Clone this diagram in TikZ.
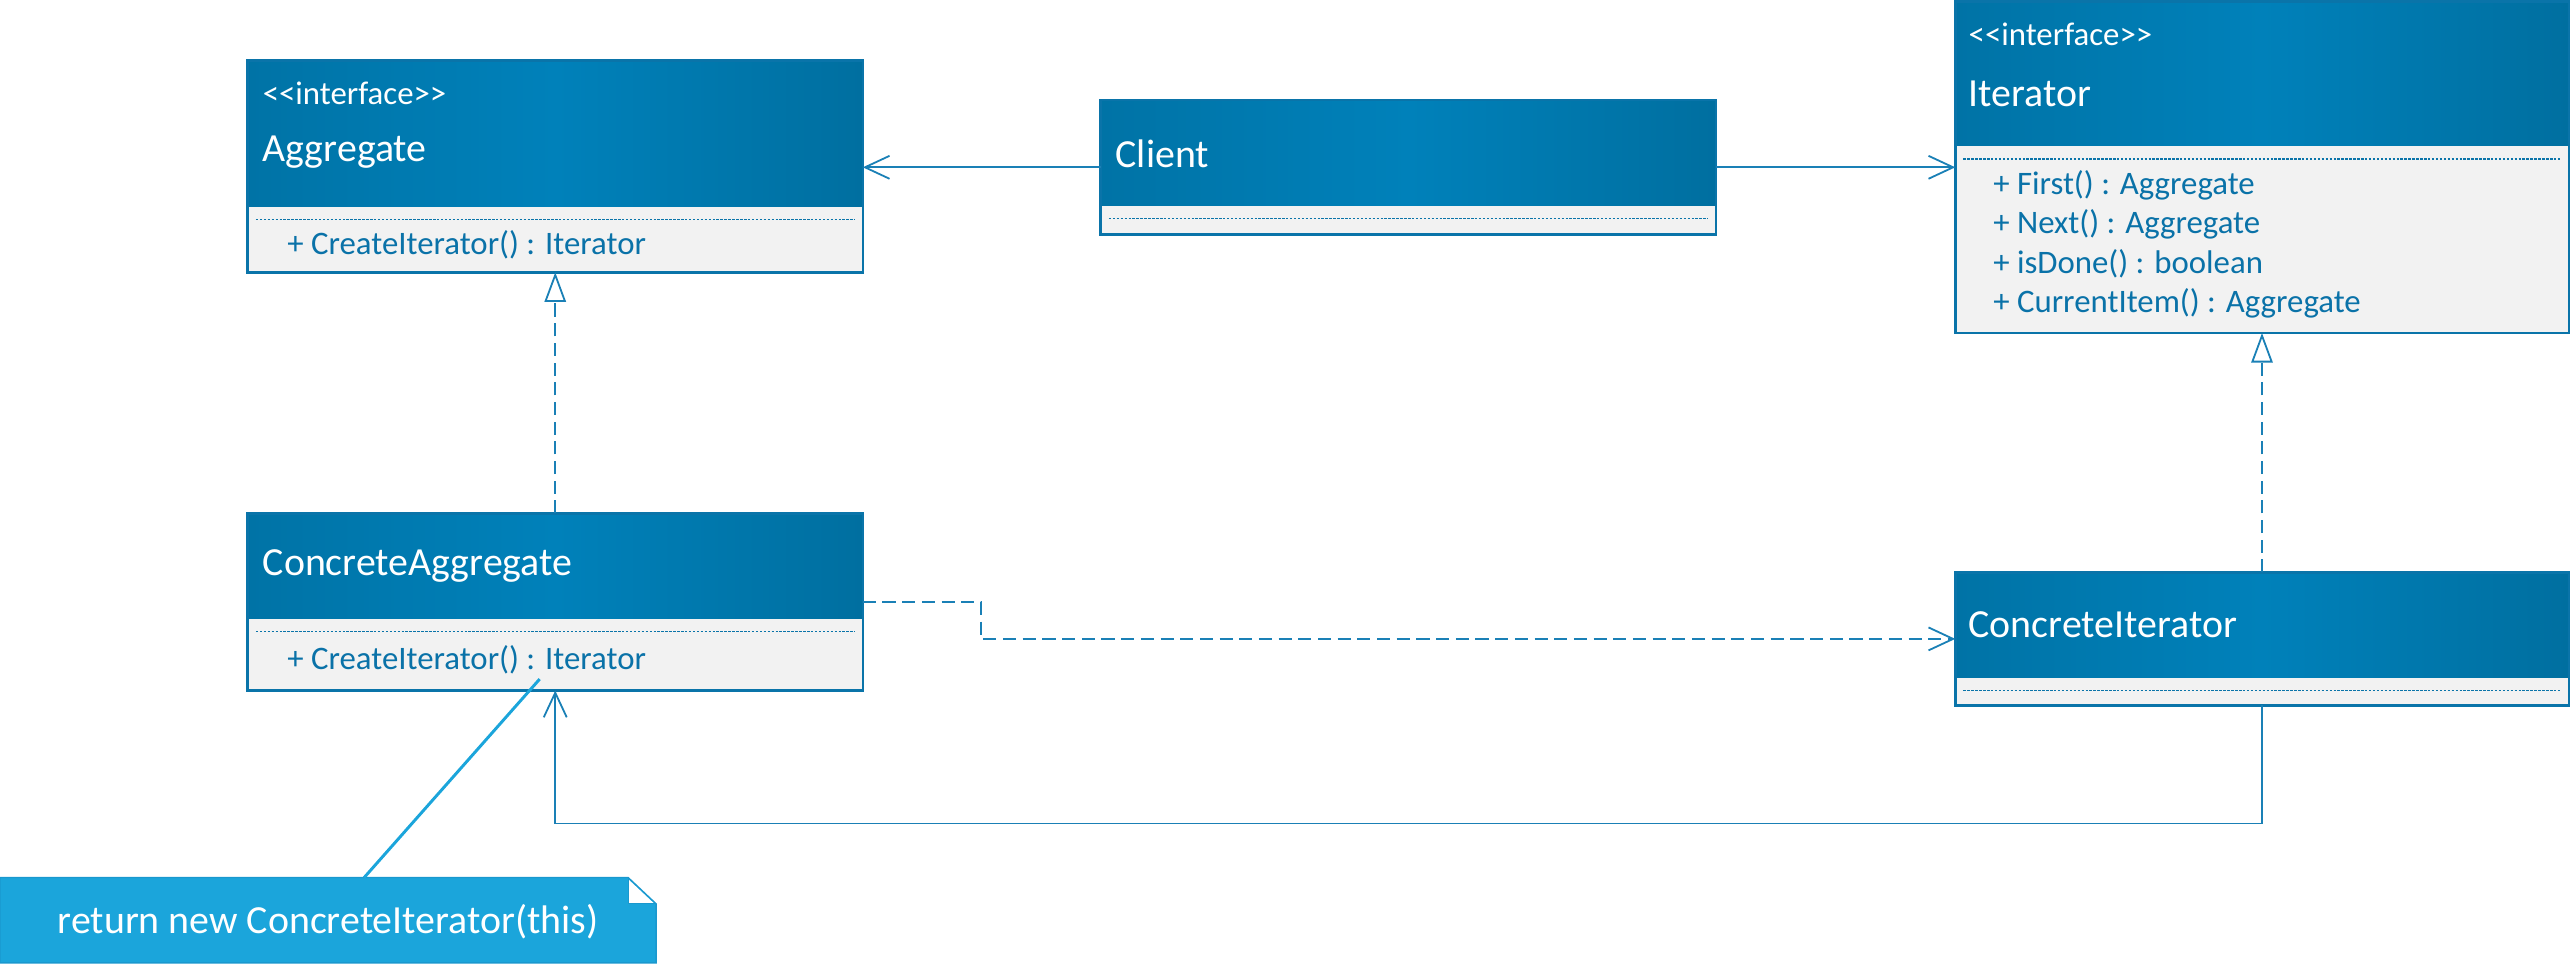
\documentclass[tikz,border=0pt]{standalone}
\usepackage{fontspec}
\setmainfont{Carlito}[Ligatures=TeXOff]
\usetikzlibrary{arrows.meta,calc}
\definecolor{hdrdark}{HTML}{0073A6}
\definecolor{hdrlight}{HTML}{0081BA}
\definecolor{hdrright}{HTML}{006FA0}
\definecolor{bodyc}{HTML}{F2F2F2}
\definecolor{edgec}{HTML}{0A74A9}
\definecolor{mtext}{HTML}{0A72A8}
\definecolor{conn}{HTML}{1A80B6}
\definecolor{notec}{HTML}{1BA5DB}
\definecolor{notedark}{HTML}{1A98CE}
\newcommand{\umlcls}[6]{%
  \node[classbox, minimum width=#4pt, minimum height=#5pt] (#1) at (#2,#3) {};
  \shade[hdrshade] (#1.north west) rectangle ($(#1.north east)+(0,#6)$);
  \draw[boxedge] (#1.north west) rectangle (#1.south east);
  \draw[dotline] ($(#1.north west)+(5,#6+8)$) -- ($(#1.north east)+(-5,#6+8)$);
}
\begin{document}
\begin{tikzpicture}[x=1pt,y=-1pt,
  classbox/.style={fill=bodyc, anchor=north west, inner sep=0pt, outer sep=0pt},
  hdrshade/.style={left color=hdrdark, right color=hdrright, middle color=hdrlight},
  boxedge/.style={draw=edgec, line width=1.5pt},
  dotline/.style={draw=edgec, line width=0.8pt, dash pattern=on 1.5pt off 0.9pt},
  ttl/.style={anchor=west, text=white, font=\fontsize{24.3}{28}\selectfont, inner sep=0pt},
  stereo/.style={anchor=west, text=white, font=\fontsize{20}{24}\selectfont, inner sep=0pt},
  meth/.style={anchor=west, text=mtext, font=\fontsize{20}{24}\selectfont, inner sep=0pt},
  assoc/.style={draw=conn, line width=1.1pt, -{Straight Barb[length=15pt,width=14pt]}},
  realize/.style={draw=conn, line width=1.1pt, dash pattern=on 8pt off 4pt, -{Triangle[open,length=18pt,width=13pt,fill=white]}},
  depend/.style={draw=conn, line width=1.1pt, dash pattern=on 8pt off 4pt, -{Straight Barb[length=15pt,width=14pt]}},
  notebox/.style={fill=notec, draw=notedark, line width=0.8pt},
  noteline/.style={draw=notec, line width=1.8pt}
]
\useasboundingbox (0,0) rectangle (1568,588);

% classes
\umlcls{agg}{151}{37}{375}{129}{89}
\node[stereo] (aggst) at (160,57) {<<interface>>};
\node[ttl] (aggt) at (160,93) {Aggregate};
\node[meth] (aggm) at (175,149) {+ CreateIterator() : Iterator};

\umlcls{client}{671}{61}{375}{82}{64}
\node[ttl] (clientt) at (680,94) {Client};

\umlcls{iter}{1192}{1}{374}{202}{88}
\node[stereo] (iterst) at (1200,21) {<<interface>>};
\node[ttl] (itert) at (1200,57) {Iterator};
\node[meth] (iterm1) at (1215,113) {+ First() : Aggregate};
\node[meth] (iterm2) at (1215,137) {+ Next() : Aggregate};
\node[meth] (iterm3) at (1215,161) {+ isDone() : boolean};
\node[meth] (iterm4) at (1215,185) {+ CurrentItem() : Aggregate};

\umlcls{cagg}{151}{313}{375}{108}{64}
\node[ttl] (caggt) at (160,345) {ConcreteAggregate};
\node[meth] (caggm) at (175,402) {+ CreateIterator() : Iterator};

\umlcls{citer}{1192}{349}{374}{81}{64}
\node[ttl] (citert) at (1200,381) {ConcreteIterator};

% note
\draw[notebox] (0,535) -- (383,535) -- (400,551) -- (400,587) -- (0,587) -- cycle;
\fill[white] (383,536) -- (383,551) -- (399,551) -- cycle;
\draw[notedark, line width=0.6pt] (383,535) -- (383,551) -- (400,551);
\node[text=white, font=\fontsize{24.3}{28}\selectfont, inner sep=0pt] (note) at (200,562) {return new ConcreteIterator(this)};
\coordinate (notetop) at (222,535);
\coordinate (caggpt) at (329,414);

% connectors
\draw[assoc] (client.west) -- (agg.east |- client.west);
\draw[assoc] (client.east) -- (iter.west |- client.east);
\draw[realize] (cagg.north) -- (agg.south);
\draw[realize] (citer.north) -- (iter.south);
\draw[depend] (cagg.east) -- ++(72,0) |- (citer.west);
\draw[assoc] (citer.south) -- ++(0,72) -| (cagg.south);
\draw[noteline] (notetop) -- (caggpt);
\end{tikzpicture}
\end{document}
